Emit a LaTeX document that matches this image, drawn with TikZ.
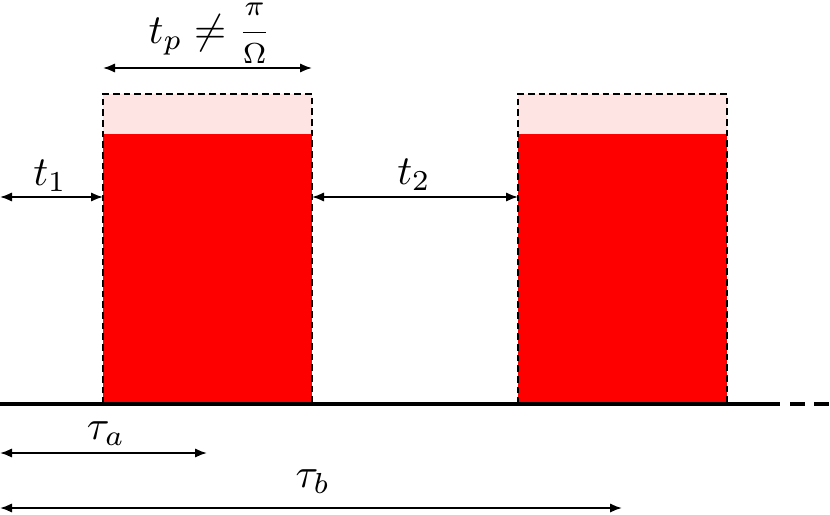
\documentclass[tikz,border=0pt]{standalone}
\usepackage{amsmath}
\usetikzlibrary{arrows.meta}
\definecolor{pulsered}{RGB}{255,0,0}
\definecolor{pulsepink}{RGB}{255,228,228}
\begin{document}
\begin{tikzpicture}[x=0.75pt,y=-0.75pt,
  dim/.style={{Latex[length=9pt,width=7pt]}-{Latex[length=9pt,width=7pt]}, line width=1.4pt},
  lbl/.style={scale=3.1, inner sep=0pt, anchor=base},
  outline/.style={dashed, dash pattern=on 5pt off 3pt, line width=1.3pt}]
\useasboundingbox (0,0) rectangle (830,514);
% pulses
\fill[pulsepink] (103,94) rectangle (312,134);
\fill[pulsered] (103,134) rectangle (312,404);
\draw[outline] (103,404) -- (103,94) -- (312,94) -- (312,404);
\fill[pulsepink] (518,94) rectangle (727,134);
\fill[pulsered] (518,134) rectangle (727,404);
\draw[outline] (518,404) -- (518,94) -- (727,94) -- (727,404);
% baseline
\coordinate (o) at (0,404);
\coordinate (e) at (780,404);
\coordinate (e2) at (830,404);
\draw[line width=2.4pt] (o) -- (e);
\draw[line width=2.4pt, dash pattern=on 11pt off 7pt] (e) ++(10,0) -- (e2);
% tp
\coordinate (tpL) at (103,68);
\coordinate (tpR) at (312,68);
\draw[dim] (tpL) -- (tpR);
\node[lbl] (tp) at (210,43) {$t_p \neq \dfrac{\scriptstyle\pi}{\raisebox{2pt}{$\scriptstyle\Omega$}}$};
% t1
\coordinate (t1L) at (0,197);
\coordinate (t1R) at (103,197);
\draw[dim] (t1L) -- (t1R);
\node[lbl] (t1) at (50,185) {$t_1$};
% t2
\coordinate (t2L) at (312,197);
\coordinate (t2R) at (518,197);
\draw[dim] (t2L) -- (t2R);
\node[lbl] (t2) at (414,184) {$t_2$};
% tau a
\coordinate (taL) at (0,453);
\coordinate (taR) at (207,453);
\draw[dim] (taL) -- (taR);
\node[lbl] (ta) at (106,439) {$\tau_a$};
% tau b
\coordinate (tbL) at (0,508);
\coordinate (tbR) at (622,508);
\draw[dim] (tbL) -- (tbR);
\node[lbl] (tb) at (313,487) {$\tau_b$};
\end{tikzpicture}
\end{document}
